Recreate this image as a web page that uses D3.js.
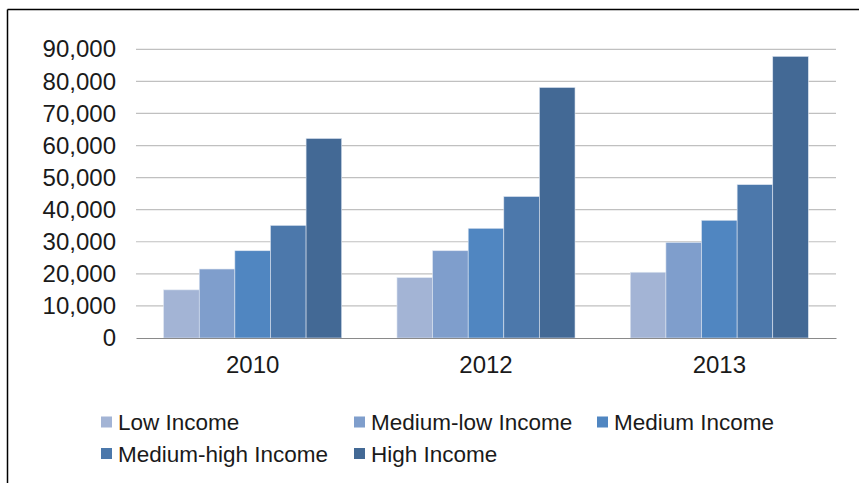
<!DOCTYPE html>
<html>
<head>
<meta charset="utf-8">
<script src="https://cdn.jsdelivr.net/npm/d3@7"></script>
<style>
body { margin: 0; background: #fff; }
svg { display: block; font-family: "Liberation Sans", Arial, sans-serif; }
</style>
</head>
<body>
<script>
var years = ["2010", "2012", "2013"];
var seriesNames = ["Low Income", "Medium-low Income", "Medium Income", "Medium-high Income", "High Income"];
var lowIncome = [15000, 18800, 20500];
var mediumLowIncome = [21500, 27200, 29800];
var mediumIncome = [27200, 34200, 36700];
var mediumHighIncome = [35100, 44100, 47800];
var highIncome = [62200, 78100, 87800];
var yTicks = [0, 10000, 20000, 30000, 40000, 50000, 60000, 70000, 80000, 90000];
var colors = ["#a3b4d5", "#7f9ecc", "#5086c1", "#4c78ab", "#436995"];

var allSeries = [lowIncome, mediumLowIncome, mediumIncome, mediumHighIncome, highIncome];

var w = 859;
var h = 483;
var plotLeft = 136, plotRight = 836, plotTop = 49.3, plotBottom = 338;

var svg = d3.select("body").append("svg")
	.attr("width", w)
	.attr("height", h);

// frame (only top + left edges show)
svg.append("line").attr("x1", 7.5).attr("x2", w).attr("y1", 9.5).attr("y2", 9.5)
	.attr("stroke", "#000").attr("stroke-width", 1.5);
svg.append("line").attr("x1", 7.5).attr("x2", 7.5).attr("y1", 9.5).attr("y2", h)
	.attr("stroke", "#000").attr("stroke-width", 1.5);

var x0 = d3.scaleBand().domain(years).range([plotLeft, plotRight]).paddingInner(0.237).paddingOuter(0.1185);
var x1 = d3.scaleBand().domain(d3.range(seriesNames.length)).range([0, x0.bandwidth()]);
var y = d3.scaleLinear().domain([0, 90000]).range([plotBottom, plotTop]);

// gridlines
svg.append("g")
	.selectAll("line")
	.data(yTicks.slice(1))
	.enter()
	.append("line")
	.attr("x1", plotLeft).attr("x2", plotRight)
	.attr("y1", function(d) { return y(d); })
	.attr("y2", function(d) { return y(d); })
	.attr("stroke", "#c0c0c0")
	.attr("stroke-width", 1.2);

// y axis labels
var yAxis = d3.axisLeft(y).tickValues(yTicks).tickSize(0).tickPadding(20)
	.tickFormat(d3.format(","));
var gy = svg.append("g").attr("transform", "translate(" + plotLeft + ",0)").call(yAxis);
gy.select(".domain").remove();
gy.selectAll("text").attr("font-size", "24px").attr("fill", "#1a1a1a")
	.attr("font-family", "Liberation Sans, Arial, sans-serif");

// bars
var groups = svg.append("g")
	.selectAll("g")
	.data(allSeries)
	.enter()
	.append("g")
	.attr("fill", function(d, i) { return colors[i]; });

groups.selectAll("rect")
	.data(function(d, i) { return d.map(function(v, j) { return { s: i, year: years[j], v: v }; }); })
	.enter()
	.append("rect")
	.attr("x", function(d) { return x0(d.year) + x1(d.s); })
	.attr("y", function(d) { return y(d.v); })
	.attr("width", x1.bandwidth())
	.attr("height", function(d) { return plotBottom - y(d.v); })
	.attr("stroke", "#dde5f0")
	.attr("stroke-width", 0.6);

// x axis
var xAxis = d3.axisBottom(x0).tickSize(0).tickPadding(18);
var gx = svg.append("g").attr("transform", "translate(0," + plotBottom + ")").call(xAxis);
gx.select(".domain").attr("stroke", "#8a8a8a").attr("stroke-width", 1.2);
gx.selectAll("text").attr("font-size", "24px").attr("fill", "#1a1a1a")
	.attr("font-family", "Liberation Sans, Arial, sans-serif");

// legend
var legendPos = [[101, 422], [354, 422], [597, 422], [101, 453.5], [354, 453.5]];
var legend = svg.append("g")
	.selectAll("g")
	.data(seriesNames)
	.enter()
	.append("g")
	.attr("transform", function(d, i) { return "translate(" + legendPos[i][0] + "," + legendPos[i][1] + ")"; });

legend.append("rect")
	.attr("x", 0).attr("y", -5.5)
	.attr("width", 11).attr("height", 11)
	.attr("fill", function(d, i) { return colors[i]; });

legend.append("text")
	.attr("x", 17)
	.attr("dy", "0.36em")
	.attr("font-size", "22.5px")
	.attr("fill", "#1a1a1a")
	.text(function(d) { return d; });
</script>
</body>
</html>
